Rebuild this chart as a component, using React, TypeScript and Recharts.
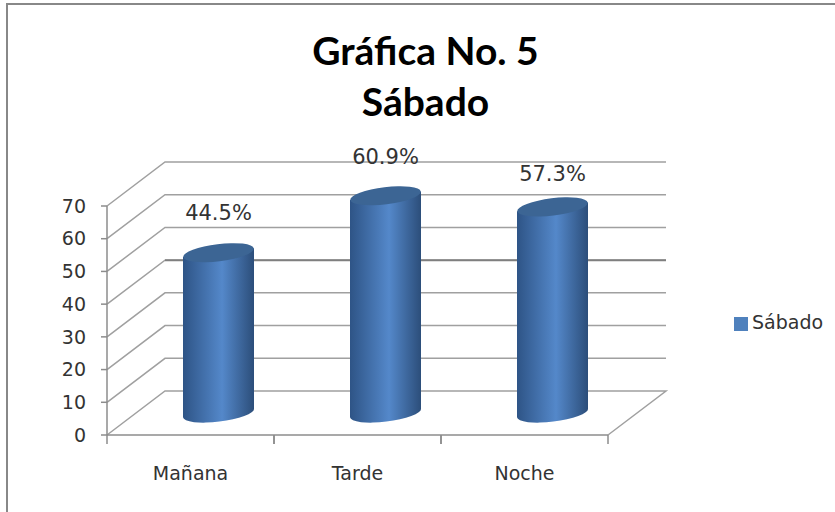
import React from 'react';
import { BarChart, Bar, CartesianGrid, XAxis, YAxis, Legend, LabelList } from 'recharts';

const categories = ['Mañana', 'Tarde', 'Noche'];
// bar heights, the printed labels differ from them
const barHeights = [49, 66.4, 63];
const barLabels = ['44.5%', '60.9%', '57.3%'];
const yTicks = [0, 10, 20, 30, 40, 50, 60, 70];
const seriesName = 'Sábado';

const data = categories.map((name, i) => ({ name, value: barHeights[i], label: barLabels[i] }));

const DEPTH_X = 58;
const DEPTH_Y = 44;
const BAND = 167;
const AXIS_COLOR = '#8c8c8c';
const TEXT_FONT = '"DejaVu Sans", sans-serif';
// hand placed labels in the original: gap above the bar top
const labelGaps = [34, 33, 27];

const GridLine = (props: any) => {
  const { x1, x2, y1, index } = props;
  const backY = y1 - DEPTH_Y;
  const floor = y1 > 430;
  const d = `M${x1},${y1} L${x1 + DEPTH_X},${backY} L${x2 + DEPTH_X},${backY}` + (floor ? ` L${x2},${y1}` : '');
  // the 40 line prints heavier along the back wall only
  const dark = Math.round(y1) === 304;
  return (
    <g key={index}>
      <path d={d} fill="none" stroke="#a0a0a0" strokeWidth={1.5} />
      {dark && <line x1={x1 + DEPTH_X} x2={x2 + DEPTH_X} y1={backY} y2={backY} stroke="#7f7f7f" strokeWidth={2} />}
    </g>
  );
};

const Cylinder = (props: any) => {
  const { x, y, width, height } = props;
  const rx = width / 2;
  const ry = 8.6;
  const cx = x + rx + DEPTH_X / 2 - 1;
  const top = y - DEPTH_Y / 2;
  const bottom = y + height - DEPTH_Y / 2;
  const tilt = -7;
  const dy = rx * Math.sin((tilt * Math.PI) / 180);
  const body = `M${cx - rx},${top - dy} L${cx - rx},${bottom - dy}
    A${rx},${ry} ${tilt} 0 0 ${cx + rx},${bottom + dy}
    L${cx + rx},${top + dy} Z`;
  return (
    <g>
      <path d={body} fill="url(#cyl)" />
      <ellipse cx={cx} cy={top} rx={rx} ry={ry} fill="#3c6594" transform={`rotate(${tilt} ${cx} ${top})`} />
    </g>
  );
};

const CategoryTick = (props: any) => {
  const { x, y, payload } = props;
  return (
    <g>
      <line x1={x - BAND / 2} x2={x - BAND / 2} y1={y - 8} y2={y + 1} stroke={AXIS_COLOR} strokeWidth={1.5} />
      <line x1={x + BAND / 2} x2={x + BAND / 2} y1={y - 8} y2={y + 1} stroke={AXIS_COLOR} strokeWidth={1.5} />
      <text x={x} y={y + 37} textAnchor="middle" fontSize={19} fontFamily={TEXT_FONT} fill="#333">
        {payload.value}
      </text>
    </g>
  );
};

const BarLabel = (props: any) => {
  const { x, y, width, index, value } = props;
  return (
    <text x={x + width / 2 + 28} y={y - 22 - labelGaps[index] + 1} textAnchor="middle" fontSize={21} fontFamily={TEXT_FONT} fill="#333">
      {value}
    </text>
  );
};

export default function App() {
  return (
    <div style={{ position: 'absolute', left: 0, top: 0, width: 835, height: 512, background: '#fff', overflow: 'hidden' }}>
      <div style={{ position: 'absolute', left: 6, top: 3, width: 900, height: 600, border: '2px solid #888', boxSizing: 'border-box' }} />
      <div style={{ position: 'absolute', left: 0, right: 0, top: 25, paddingLeft: 16, textAlign: 'center', fontFamily: 'Lato, sans-serif', fontWeight: 700, fontSize: 39, lineHeight: '51px', color: '#000' }}>
        Gráfica No. 5
        <br />
        Sábado
      </div>
      <div style={{ position: 'absolute', left: 0, top: 0 }}>
        <BarChart width={835} height={512} data={data} margin={{ top: 206, right: 227, bottom: 25, left: 47 }} barSize={71}>
          <defs>
            <linearGradient id="cyl" x1="0" y1="0" x2="1" y2="0">
              <stop offset="0%" stopColor="#2e5486" />
              <stop offset="55%" stopColor="#5488ca" />
              <stop offset="100%" stopColor="#2c4e7a" />
            </linearGradient>
          </defs>
          <CartesianGrid horizontal={GridLine} vertical={false} />
          <XAxis dataKey="name" height={30} axisLine={{ stroke: AXIS_COLOR, strokeWidth: 1.5 }} tickLine={false} tick={CategoryTick} interval={0} />
          <YAxis
            width={60}
            domain={[0, 70]}
            ticks={yTicks}
            interval={0}
            axisLine={{ stroke: AXIS_COLOR, strokeWidth: 1.5 }}
            tickLine={{ stroke: AXIS_COLOR, strokeWidth: 1.5 }}
            tickSize={6}
            tickMargin={15}
            tick={{ fontSize: 19, fontFamily: TEXT_FONT, fill: '#333' }}
          />
          <Legend
            layout="vertical"
            iconType="square"
            iconSize={14}
            wrapperStyle={{ left: 734, top: 311, width: 100, fontFamily: TEXT_FONT, fontSize: 19 }}
            formatter={(v: string) => <span style={{ color: '#333' }}>{v}</span>}
          />
          <Bar dataKey="value" name={seriesName} fill="#4f81bd" shape={Cylinder} isAnimationActive={false}>
            <LabelList dataKey="label" content={BarLabel} />
          </Bar>
        </BarChart>
      </div>
    </div>
  );
}
